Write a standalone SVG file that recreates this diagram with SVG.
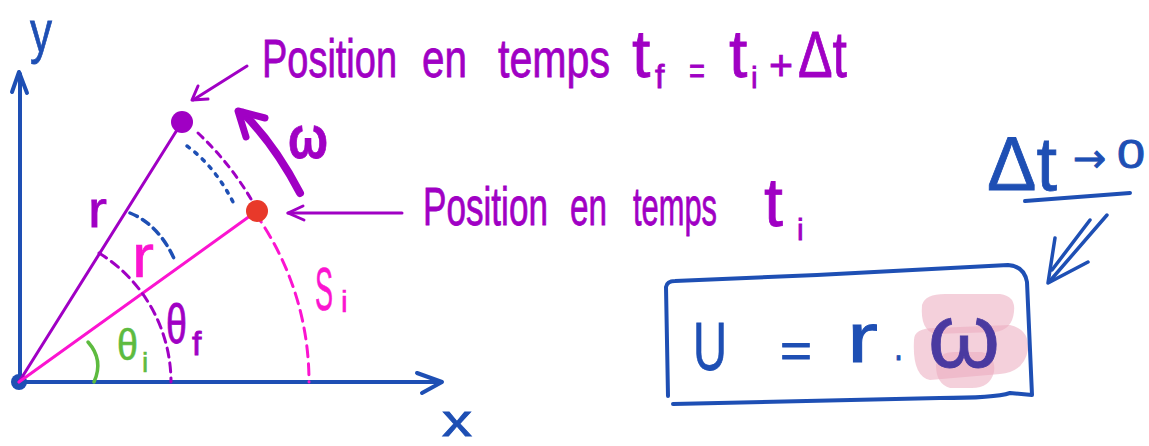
<svg xmlns="http://www.w3.org/2000/svg" width="1149" height="446" viewBox="0 0 1149 446">
<style>
  .ln{fill:none;stroke-linecap:round;stroke-linejoin:round}
  .blue{stroke:#1e4fb4}
  .purple{stroke:#a000c4}
  .pink{stroke:#fb14d0}
  .green{stroke:#5dbb3f}
  .t{font-family:"Liberation Sans","DejaVu Sans",sans-serif}
  .tp{fill:#a000c4;stroke:#a000c4;stroke-width:0.8}
  .tb{fill:#1e4fb4;stroke:#1e4fb4;stroke-width:0.8}
  .tk{fill:#fb14d0;stroke:#fb14d0;stroke-width:0.6}
  .tg{fill:#5dbb3f;stroke:#5dbb3f;stroke-width:0.6}
  .blob{fill:#eba9be;opacity:0.55}
</style>
<rect width="1149" height="446" fill="#ffffff"/>

<g id="axes">
  <path class="ln blue" stroke-width="4" d="M20,382 L20,74"/>
  <path class="ln blue" stroke-width="4" d="M12,92 L19,72 L27,93"/>
  <path class="ln blue" stroke-width="4" d="M19,382 L441,382"/>
  <path class="ln blue" stroke-width="4" d="M417,373 L442,382 L422,393"/>
  <text class="t tb" x="30" y="52" font-size="60" textLength="22" lengthAdjust="spacingAndGlyphs">y</text>
  <text class="t tb" x="442" y="436" font-size="44" textLength="30" lengthAdjust="spacingAndGlyphs">x</text>
  <circle cx="19" cy="382" r="8" fill="#1e4fb4"/>
</g>

<g id="radii">
  <path class="ln purple" stroke-width="3" d="M19,382 L182,122"/>
  <path class="ln pink" stroke-width="3" d="M19,382 L257,211"/>
  <path class="ln pink" stroke-width="3" stroke-dasharray="11 7" d="M255,213 A290,290 0 0 1 309,382"/>
  <path class="ln purple" stroke-width="3" stroke-dasharray="7 6" d="M198,133 A302,302 0 0 1 251,199"/>
  <path class="ln purple" stroke-width="3" stroke-dasharray="9 6" d="M99,253 A152,152 0 0 1 171,382"/>
  <path class="ln blue" stroke-width="3.5" stroke-dasharray="3 7" d="M187,146 Q217,168 236,208"/>
  <path class="ln blue" stroke-width="3.5" stroke-dasharray="8 6" d="M130,213 Q160,225 176,263"/>
  <path class="ln green" stroke-width="3.5" d="M88,342 Q104,360 94,382"/>
</g>

<g id="point-f">
  <circle cx="182" cy="122" r="11" fill="#a000c4"/>
</g>
<g id="point-i">
  <circle cx="257" cy="211" r="11" fill="#e8392a"/>
</g>

<g id="labels">
  <text class="t tp" x="88" y="227" font-size="52" textLength="19" lengthAdjust="spacingAndGlyphs">r</text>
  <text class="t tk" x="132" y="277" font-size="62" textLength="22" lengthAdjust="spacingAndGlyphs">r</text>
  <text class="t tg" x="117" y="360" font-size="44" textLength="21" lengthAdjust="spacingAndGlyphs">θ</text>
  <text class="t tg" x="142" y="372" font-size="28">i</text>
  <text class="t tp" x="166" y="343" font-size="56" textLength="21" lengthAdjust="spacingAndGlyphs">θ</text>
  <text class="t tp" x="192" y="355" font-size="34">f</text>
  <text class="t tk" x="315" y="310" font-size="62" textLength="18" lengthAdjust="spacingAndGlyphs">S</text>
  <text class="t tk" x="341" y="312" font-size="30">i</text>
  <text class="t tp" x="288" y="158" font-size="60" font-weight="bold" textLength="40" lengthAdjust="spacingAndGlyphs">ω</text>
</g>

<g id="label-tf">
  <text class="t tp" x="262" y="77" font-size="54" textLength="135" lengthAdjust="spacingAndGlyphs">Position</text>
  <text class="t tp" x="422" y="77" font-size="54" textLength="45" lengthAdjust="spacingAndGlyphs">en</text>
  <text class="t tp" x="498" y="77" font-size="54" textLength="112" lengthAdjust="spacingAndGlyphs">temps</text>
  <text class="t tp" x="632" y="77" font-size="66">t</text>
  <text class="t tp" x="655" y="88" font-size="34">f</text>
  <text class="t tp" x="689" y="83" font-size="36" textLength="16" lengthAdjust="spacingAndGlyphs">=</text>
  <text class="t tp" x="729" y="77" font-size="66">t</text>
  <text class="t tp" x="751" y="88" font-size="30">i</text>
  <text class="t tp" x="769" y="80" font-size="42" textLength="24" lengthAdjust="spacingAndGlyphs">+</text>
  <text class="t tp" x="798" y="77" font-size="64" textLength="49" lengthAdjust="spacingAndGlyphs">Δt</text>
</g>

<g id="label-ti">
  <text class="t tp" x="423" y="225" font-size="54" textLength="125" lengthAdjust="spacingAndGlyphs">Position</text>
  <text class="t tp" x="570" y="225" font-size="54" textLength="37" lengthAdjust="spacingAndGlyphs">en</text>
  <text class="t tp" x="633" y="225" font-size="54" textLength="84" lengthAdjust="spacingAndGlyphs">temps</text>
  <text class="t tp" x="764" y="226" font-size="68">t</text>
  <text class="t tp" x="797" y="240" font-size="30">i</text>
</g>

<g id="limit">
  <text class="t tb" x="987" y="190" font-size="76" textLength="70" lengthAdjust="spacingAndGlyphs">Δt</text>
  <text x="1073" y="172" font-size="40" font-family="'DejaVu Sans', sans-serif" fill="#1e4fb4" stroke="#1e4fb4" stroke-width="0.8">→</text>
  <text class="t tb" x="1117" y="168" font-size="40" textLength="28" lengthAdjust="spacingAndGlyphs">0</text>
  <path class="ln blue" stroke-width="4" d="M1025,201 L1130,193"/>
</g>

<g id="formula">
  <path class="blob" d="M922,305 Q925,294 945,294 L1000,294 Q1016,296 1014,312 Q1012,330 995,332 L935,334 Q920,330 922,305 Z"/>
  <path class="blob" d="M914,340 Q914,328 935,328 L1010,325 Q1030,330 1028,350 Q1024,372 1000,374 L930,380 Q912,376 914,340 Z"/>
  <path class="blob" d="M936,365 Q938,352 955,352 L982,352 Q996,356 994,372 Q990,388 972,388 L950,388 Q936,384 936,365 Z"/>
  <path class="ln blue" stroke-width="4" d="M668,396 L666,287 Q667,281 675,281 L817,275 L1008,265 Q1024,266 1027,282 L1032,395 L1010,393 Q995,398 940,398 L673,404"/>
  <text class="t tb" x="693" y="370" font-size="68" textLength="34" lengthAdjust="spacingAndGlyphs">U</text>
  <text class="t tb" x="780" y="367" font-size="48" textLength="32" lengthAdjust="spacingAndGlyphs">=</text>
  <text class="t tb" x="847" y="362" font-size="70" textLength="31" lengthAdjust="spacingAndGlyphs">r</text>
  <text class="t tb" x="894" y="360" font-size="40" textLength="9" lengthAdjust="spacingAndGlyphs">.</text>
  <text x="928" y="367" font-size="90" textLength="72" lengthAdjust="spacingAndGlyphs" class="t" fill="#4a3aa0" stroke="#4a3aa0" stroke-width="0.8">ω</text>
</g>

<g id="connectors">
  <path class="ln purple" stroke-width="3" d="M247,66 L193,100"/>
  <path class="ln purple" stroke-width="3" d="M198,86 L192,100 L208,99"/>
  <path class="ln purple" stroke-width="3" d="M402,213 L288,213"/>
  <path class="ln purple" stroke-width="3" d="M303,206 L288,213 L304,220"/>
  <path class="ln purple" stroke-width="8" d="M300,193 Q275,145 243,113"/>
  <path class="ln purple" stroke-width="7" d="M265,118 L238,111 L246,137"/>
  <path class="ln blue" stroke-width="3.5" d="M1107,215 L1049,282"/>
  <path class="ln blue" stroke-width="3.5" d="M1090,220 L1052,270"/>
  <path class="ln blue" stroke-width="3.5" d="M1055,238 L1048,283 L1088,262"/>
</g>
</svg>
